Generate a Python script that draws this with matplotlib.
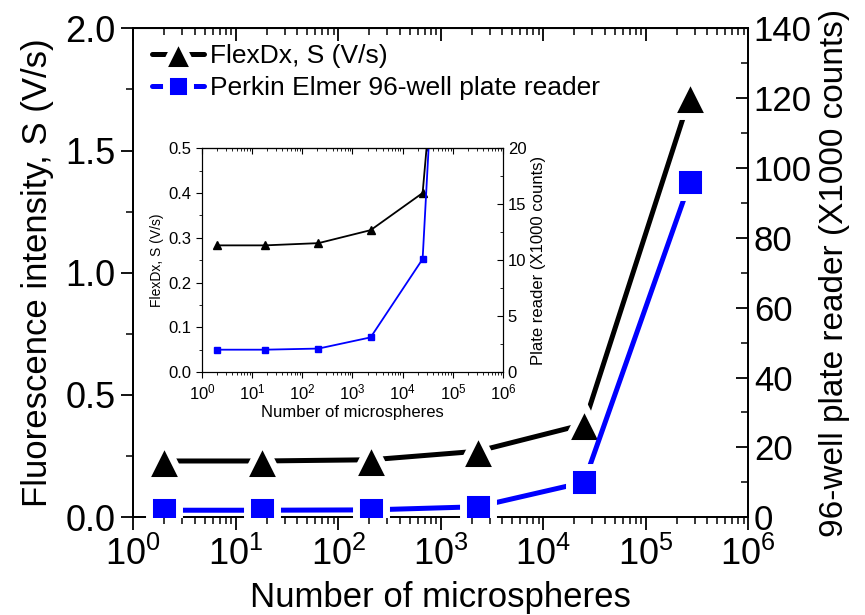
import matplotlib
matplotlib.use('Agg')
import matplotlib.pyplot as plt
import numpy as np
from matplotlib.ticker import LogLocator, MultipleLocator, NullFormatter, FixedLocator

# DATA
microspheres = [2, 18, 210, 2300, 25000, 270000]
flexdx_S = [0.23, 0.23, 0.235, 0.27, 0.38, 1.72]
plate_counts = [2.0, 2.0, 2.1, 3.0, 10.0, 96.0]

inset_flexdx_S = [0.283, 0.283, 0.288, 0.317, 0.40, 1.72]
inset_plate_counts = [2.0, 2.0, 2.1, 3.1, 10.1, 96.0]

xticks = [1, 10, 100, 1000, 10000, 100000, 1000000]
xticklabels = [r'$10^{%d}$' % i for i in range(7)]

plt.rcParams['font.family'] = ['Liberation Sans', 'DejaVu Sans']
plt.rcParams['mathtext.fontset'] = 'custom'
plt.rcParams['mathtext.rm'] = 'Liberation Sans'
plt.rcParams['mathtext.it'] = 'Liberation Sans'

blue = '#0000ff'

# MAIN
fig = plt.figure(figsize=(8.65, 6.15), dpi=100)
ax = fig.add_axes([0.154, 0.159, 0.711, 0.795])
ax2 = ax.twinx()

ax.plot(microspheres, flexdx_S, color='black', lw=3.6, marker='^', ms=27,
        mfc='black', mec='white', mew=5, solid_capstyle='round',
        label='FlexDx, S (V/s)', zorder=3)
ax2.plot(microspheres, plate_counts, color=blue, lw=3.6, marker='s', ms=21,
         mfc=blue, mec='white', mew=5, solid_capstyle='round',
         label='Perkin Elmer 96-well plate reader', zorder=3)

ax.set_xscale('log')
ax.set_xlim(1, 1e6)
ax.set_ylim(0, 2.0)
ax2.set_ylim(0, 140)

ax.xaxis.set_major_locator(FixedLocator(xticks))
ax.set_xticklabels(xticklabels)
ax.xaxis.set_minor_locator(LogLocator(base=10, subs=np.arange(2, 10), numticks=20))
ax.xaxis.set_minor_formatter(NullFormatter())
ax.yaxis.set_major_locator(MultipleLocator(0.5))
ax.yaxis.set_minor_locator(MultipleLocator(0.25))
ax.yaxis.set_major_formatter(plt.FormatStrFormatter('%.1f'))
ax2.yaxis.set_major_locator(MultipleLocator(20))
ax2.yaxis.set_minor_locator(MultipleLocator(10))

ax.tick_params(axis='both', which='major', direction='out', length=9, width=1.3, labelsize=26)
ax.tick_params(axis='x', which='major', pad=5)
ax.tick_params(axis='both', which='minor', direction='out', length=5, width=1.1)
ax2.tick_params(axis='y', which='major', direction='in', length=9, width=1.3, labelsize=25, pad=4)
ax2.tick_params(axis='y', which='minor', direction='in', length=5, width=1.1)

top = ax.secondary_xaxis('top')
top.set_xticks(xticks)
top.set_xticklabels([])
top.xaxis.set_minor_locator(LogLocator(base=10, subs=np.arange(2, 10), numticks=20))
top.xaxis.set_minor_formatter(NullFormatter())
top.tick_params(which='major', direction='in', length=9, width=1.3)
top.tick_params(which='minor', direction='in', length=5, width=1.1)

for a in (ax, ax2):
    for s in a.spines.values():
        s.set_linewidth(1.3)

ax.set_xlabel('Number of microspheres', fontsize=25, labelpad=6)
ax.set_ylabel('Fluorescence intensity, S (V/s)', fontsize=25, labelpad=8)
ax2.set_ylabel('96-well plate reader (X1000 counts)', fontsize=24, labelpad=5)

h1, l1 = ax.get_legend_handles_labels()
h2, l2 = ax2.get_legend_handles_labels()
ax.legend(h1 + h2, l1 + l2, loc='upper left', frameon=False, fontsize=19,
          handlelength=2.0, handletextpad=0.2, borderaxespad=0.3,
          labelspacing=0.3, markerscale=0.85, bbox_to_anchor=(0.0, 1.005))

# INSET
ins = fig.add_axes([0.2335, 0.395, 0.348, 0.364])
ins2 = ins.twinx()
ins.plot(microspheres, inset_flexdx_S, color='black', lw=1.3, marker='^', ms=6)
ins2.plot(microspheres, inset_plate_counts, color=blue, lw=1.3, marker='s', ms=5)
ins.set_xscale('log')
ins.set_xlim(1, 1e6)
ins.set_ylim(0, 0.5)
ins2.set_ylim(0, 20)
ins.xaxis.set_major_locator(FixedLocator(xticks))
ins.set_xticklabels(xticklabels)
ins.xaxis.set_minor_locator(LogLocator(base=10, subs=np.arange(2, 10), numticks=20))
ins.xaxis.set_minor_formatter(NullFormatter())
ins.yaxis.set_major_locator(MultipleLocator(0.1))
ins.yaxis.set_minor_locator(MultipleLocator(0.05))
ins.yaxis.set_major_formatter(plt.FormatStrFormatter('%.1f'))
ins2.yaxis.set_major_locator(MultipleLocator(5))
ins2.yaxis.set_minor_locator(MultipleLocator(2.5))
ins.tick_params(axis='both', which='major', direction='out', length=4, width=0.8, labelsize=12)
ins.tick_params(axis='both', which='minor', direction='out', length=2, width=0.6)
ins2.tick_params(axis='y', which='major', direction='in', length=4, width=0.8, labelsize=12)
ins2.tick_params(axis='y', which='minor', direction='in', length=2, width=0.6)
itop = ins.secondary_xaxis('top')
itop.set_xticks(xticks)
itop.set_xticklabels([])
itop.xaxis.set_minor_locator(LogLocator(base=10, subs=np.arange(2, 10), numticks=20))
itop.xaxis.set_minor_formatter(NullFormatter())
itop.tick_params(which='major', direction='in', length=4, width=0.8)
itop.tick_params(which='minor', direction='in', length=2, width=0.6)
ins.set_xlabel('Number of microspheres', fontsize=12, labelpad=2)
ins.set_ylabel('FlexDx, S (V/s)', fontsize=10, labelpad=3)
ins2.set_ylabel('Plate reader (X1000 counts)', fontsize=12, labelpad=3)

fig.savefig('out.png', dpi=100)
